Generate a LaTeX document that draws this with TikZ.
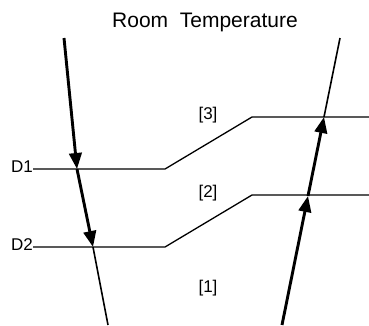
\documentclass[tikz,border=0pt]{standalone}
\usepackage{fontspec}
\setmainfont{Liberation Sans}
\usetikzlibrary{arrows.meta}

\begin{document}
\begin{tikzpicture}[
    x=1pt,y=-1pt,font=\fontsize{17}{20}\selectfont,
    level/.style={line width=1.3pt},
    ray/.style={line width=1.6pt},
    beam/.style={line width=2.9pt,-{Triangle[length=16pt,width=12.5pt]}},
    tag/.style={inner sep=0pt}
]
    \useasboundingbox (0,0) rectangle (369,325);

    % title and zone labels
    \node[tag] (title) at (205,22) {\fontsize{21}{24}\selectfont Room\ \ Temperature};
    \node[tag] (zone3) at (208,115) {[3]};
    \node[tag] (zone2) at (208,193) {[2]};
    \node[tag] (zone1) at (208,288) {[1]};

    % levels D1 and D2
    \node[tag,anchor=east] (labD1) at (33,167) {D1};
    \node[tag,anchor=east] (labD2) at (33,245) {D2};
    \coordinate (d1Kink) at (165,169);
    \coordinate (d1Up)   at (252,117);
    \coordinate (d1End)  at (369,117);
    \coordinate (d2Kink) at (165,247);
    \coordinate (d2Up)   at (252,195);
    \coordinate (d2End)  at (369,195);
    \draw[level] (labD1.east |- d1Kink) -- (d1Kink) -- (d1Up) -- (d1End);
    \draw[level] (labD2.east |- d2Kink) -- (d2Kink) -- (d2Up) -- (d2End);

    % cooling ray (left)
    \coordinate (inTop) at (64,38);
    \coordinate (inD1)  at (77,169);
    \coordinate (inD2)  at (93,247);
    \coordinate (inBot) at (108,325);
    \draw[beam] (inTop) -- (inD1);
    \draw[beam] (inD1) -- (inD2);
    \draw[ray] (inD2) -- (inBot);

    % heating ray (right)
    \coordinate (outBot) at (282,325);
    \coordinate (outD2)  at (308,196);
    \coordinate (outD1)  at (324,117);
    \coordinate (outTop) at (340,38);
    \draw[beam] (outBot) -- (outD2);
    \draw[beam] (outD2) -- (outD1);
    \draw[ray] (outD1) -- (outTop);
\end{tikzpicture}
\end{document}
